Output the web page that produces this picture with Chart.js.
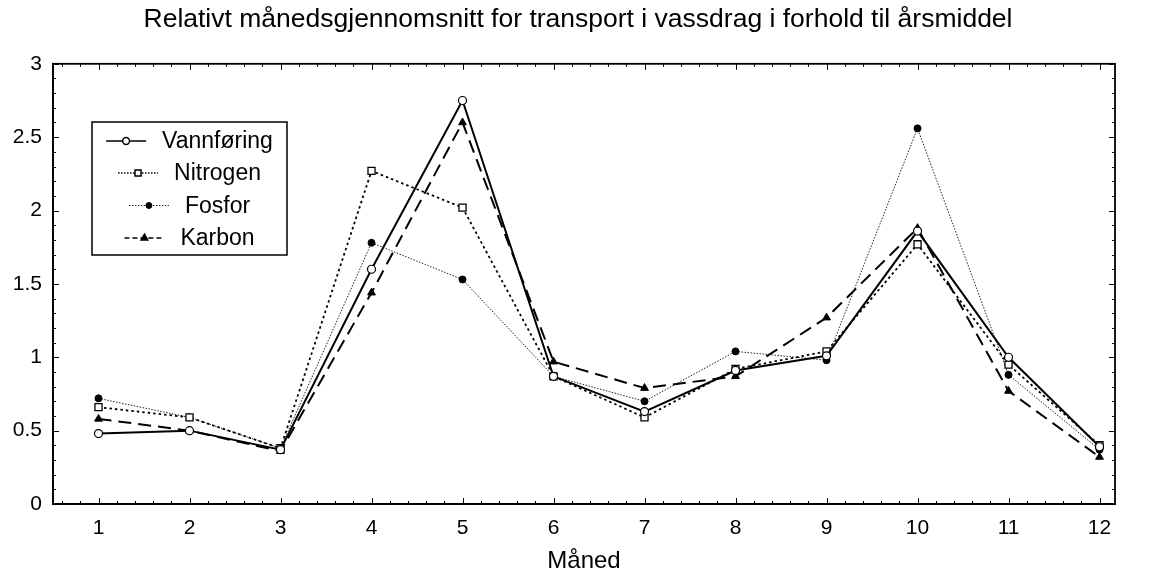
<!DOCTYPE html>
<html>
<head>
<meta charset="utf-8">
<script src="https://cdn.jsdelivr.net/npm/chart.js@4.4.1/dist/chart.umd.min.js"></script>
<style>
  html, body { margin: 0; padding: 0; background: #ffffff; }
  #wrap { width: 1156px; height: 573px; position: relative; }
</style>
</head>
<body>
<div id="wrap"><canvas id="c" width="1156" height="573"></canvas></div>
<script>
const titleText = 'Relativt månedsgjennomsnitt for transport i vassdrag i forhold til årsmiddel';
const xAxisTitle = 'Måned';
const months = [1, 2, 3, 4, 5, 6, 7, 8, 9, 10, 11, 12];
const monthLabels = ['1', '2', '3', '4', '5', '6', '7', '8', '9', '10', '11', '12'];
const yTickValues = [0, 0.5, 1, 1.5, 2, 2.5, 3];
const yTickLabels = ['0', '0.5', '1', '1.5', '2', '2.5', '3'];
const seriesNames = ['Vannføring', 'Nitrogen', 'Fosfor', 'Karbon'];
const vannforing = [0.48, 0.50, 0.37, 1.60, 2.75, 0.87, 0.63, 0.91, 1.01, 1.86, 1.00, 0.39];
const nitrogen   = [0.66, 0.59, 0.38, 2.27, 2.02, 0.87, 0.59, 0.92, 1.04, 1.77, 0.95, 0.40];
const fosfor     = [0.72, 0.59, 0.38, 1.78, 1.53, 0.87, 0.70, 1.04, 0.98, 2.56, 0.88, 0.37];
const karbon     = [0.58, 0.50, 0.36, 1.44, 2.60, 0.97, 0.79, 0.87, 1.27, 1.88, 0.77, 0.32];

const FONT = "'Liberation Sans', Arial, sans-serif";

function pts(arr) { return months.map((m, i) => ({ x: m, y: arr[i] })); }

const datasets = [
  { label: seriesNames[0], data: pts(vannforing), borderColor: '#000', borderWidth: 2, borderDash: [],
    pointStyle: 'circle', pointRadius: 4, pointBackgroundColor: '#fff', pointBorderColor: '#000', pointBorderWidth: 1.2 },
  { label: seriesNames[1], data: pts(nitrogen), borderColor: '#000', borderWidth: 1.8, borderDash: [2.5, 3],
    pointStyle: 'rect', pointRadius: 5, pointBackgroundColor: '#fff', pointBorderColor: '#000', pointBorderWidth: 1.3 },
  { label: seriesNames[2], data: pts(fosfor), borderColor: '#222', borderWidth: 1, borderDash: [1.5, 1.5],
    pointStyle: 'circle', pointRadius: 3.5, pointBackgroundColor: '#000', pointBorderColor: '#000', pointBorderWidth: 1 },
  { label: seriesNames[3], data: pts(karbon), borderColor: '#000', borderWidth: 2, borderDash: [13, 7],
    pointStyle: 'triangle', pointRadius: 4.5, pointBackgroundColor: '#000', pointBorderColor: '#000', pointBorderWidth: 1 }
];
datasets.forEach(d => { d.fill = false; d.tension = 0; d.yAxisID = 'y'; });

const frameAndLegend = {
  id: 'frameAndLegend',
  afterDraw(chart) {
    const ctx = chart.ctx;
    const a = chart.chartArea;
    const xs = chart.scales.x, ys = chart.scales.y;
    ctx.save();
    ctx.strokeStyle = '#000';
    ctx.lineWidth = 1.8;
    ctx.setLineDash([]);
    ctx.strokeRect(a.left, a.top, a.right - a.left, a.bottom - a.top);
    ctx.lineWidth = 1;
    for (let k = 0; k <= 30; k++) {
      const v = k / 10;
      const y = Math.round(ys.getPixelForValue(v)) + 0.5;
      const len = (k % 5 === 0) ? 6 : 3;
      ctx.beginPath();
      ctx.moveTo(a.left, y); ctx.lineTo(a.left + len, y);
      ctx.moveTo(a.right, y); ctx.lineTo(a.right - len, y);
      ctx.stroke();
    }
    for (let k = 3; k <= 61; k++) {
      const v = k / 5;
      if (v < xs.min || v > xs.max) continue;
      const x = Math.round(xs.getPixelForValue(v)) + 0.5;
      const len = (k % 5 === 0) ? 6 : 3;
      ctx.beginPath();
      ctx.moveTo(x, a.bottom); ctx.lineTo(x, a.bottom - len);
      ctx.moveTo(x, a.top); ctx.lineTo(x, a.top + len);
      ctx.stroke();
    }
    const bx = 92, by = 122, bw = 195, bh = 133;
    ctx.fillStyle = '#fff';
    ctx.fillRect(bx, by, bw, bh);
    ctx.lineWidth = 1.5;
    ctx.strokeStyle = '#000';
    ctx.strokeRect(bx, by, bw, bh);
    ctx.font = '23px ' + FONT;
    ctx.textBaseline = 'middle';
    ctx.textAlign = 'left';
    const cx = bx + bw / 2;
    const rowY = [141, 173, 205.5, 238];
    const sampleLen = 40, gap = 16;
    chart.data.datasets.forEach((d, i) => {
      const tw = ctx.measureText(d.label).width;
      const total = sampleLen + gap + tw;
      const x0 = cx - total / 2;
      const y = rowY[i];
      ctx.save();
      ctx.strokeStyle = d.borderColor;
      ctx.lineWidth = Math.min(d.borderWidth, 1.5);
      ctx.setLineDash(i === 0 ? [] : (i === 3 ? [5, 3] : [1.5, 1.5]));
      ctx.beginPath();
      ctx.moveTo(x0, y); ctx.lineTo(x0 + sampleLen, y);
      ctx.stroke();
      ctx.setLineDash([]);
      ctx.fillStyle = d.pointBackgroundColor;
      ctx.strokeStyle = d.pointBorderColor;
      Chart.helpers.drawPoint(ctx, { pointStyle: d.pointStyle, radius: d.pointRadius * 0.85, rotation: 0, borderWidth: 1.2 }, x0 + sampleLen / 2, y);
      ctx.restore();
      ctx.fillStyle = '#000';
      ctx.fillText(d.label, x0 + sampleLen + gap, y + 1);
    });
    ctx.restore();
  }
};

new Chart(document.getElementById('c'), {
  type: 'line',
  data: { datasets },
  options: {
    responsive: false,
    animation: false,
    devicePixelRatio: 1,
    layout: { padding: { left: 0, right: 0, top: 0, bottom: 0 } },
    plugins: {
      legend: { display: false },
      tooltip: { enabled: false },
      title: {
        display: true, text: titleText, color: '#000',
        font: { family: FONT, size: 26.5, weight: 'normal', lineHeight: 1.2 },
        padding: { top: 4, bottom: 28 }
      }
    },
    scales: {
      x: {
        type: 'linear', min: 0.5, max: 12.17,
        afterFit(s) { s.height = 69; },
        afterBuildTicks(s) { s.ticks = months.map(v => ({ value: v })); },
        grid: { display: false, drawTicks: false },
        border: { display: true, color: '#000', width: 1.8 },
        ticks: {
          color: '#000', font: { family: FONT, size: 21 }, padding: 12, maxRotation: 0, autoSkip: false,
          callback: (v) => { const i = months.indexOf(v); return i >= 0 ? monthLabels[i] : ''; }
        },
        title: { display: true, text: xAxisTitle, color: '#000', font: { family: FONT, size: 24 }, padding: { top: 0, bottom: -3 } }
      },
      y: {
        type: 'linear', min: 0, max: 3, position: 'left',
        afterFit(s) { s.width = 53; },
        afterBuildTicks(s) { s.ticks = yTickValues.map(v => ({ value: v })); },
        grid: { display: false, drawTicks: false },
        border: { display: true, color: '#000', width: 1.8 },
        ticks: {
          color: '#000', font: { family: FONT, size: 21 }, padding: 11,
          callback: (v) => { const i = yTickValues.indexOf(v); return i >= 0 ? yTickLabels[i] : ''; }
        }
      },
      yRight: {
        type: 'linear', min: 0, max: 3, position: 'right', display: true,
        afterFit(s) { s.width = 41; },
        grid: { display: false, drawTicks: false },
        border: { display: false },
        ticks: { display: false }
      }
    }
  },
  plugins: [frameAndLegend]
});
</script>
</body>
</html>
